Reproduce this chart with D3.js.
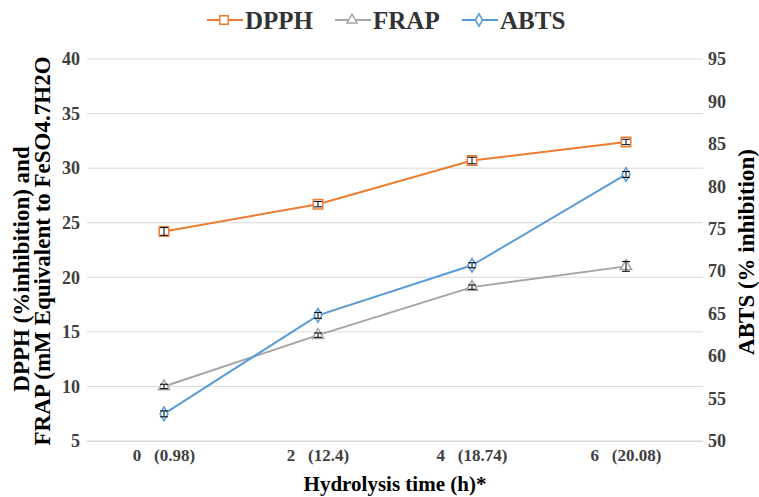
<!DOCTYPE html>
<html><head><meta charset="utf-8">
<script src="https://cdn.jsdelivr.net/npm/d3@7"></script>
<style>body{margin:0;background:#fff}svg{display:block}
text{font-family:"Liberation Serif","Times New Roman",Times,serif;font-weight:bold}</style>
</head><body>
<svg id="c" width="759" height="497"></svg>
<script>
const categories = ["0   (0.98)", "2   (12.4)", "4   (18.74)", "6   (20.08)"];
const dpph = [24.2, 26.7, 30.7, 32.4];
const dpphErr = [0.35, 0.25, 0.3, 0.25];
const frap = [10.0, 14.7, 19.1, 21.0];
const frapErr = [0.2, 0.2, 0.2, 0.45];
const abts = [53.2, 64.8, 70.7, 81.4];
const abtsErr = [0.35, 0.35, 0.3, 0.35];
const leftTicks = [5, 10, 15, 20, 25, 30, 35, 40];
const rightTicks = [50, 55, 60, 65, 70, 75, 80, 85, 90, 95];

const svg = d3.select("#c");
const L = 87, R = 703, T = 59, B = 441;
const x = d3.scaleBand().domain(categories).range([L, R]);
const yL = d3.scaleLinear().domain([5, 40]).range([B, T]);
const yR = d3.scaleLinear().domain([50, 95]).range([B, T]);
const cx = c => x(c) + x.bandwidth() / 2;

svg.append("g").selectAll("line").data(leftTicks).join("line")
  .attr("x1", L).attr("x2", R).attr("y1", d => yL(d)).attr("y2", d => yL(d))
  .attr("stroke", "#d9d9d9").attr("stroke-width", 1);

const styleTicks = (g, fs) => { g.attr("font-family", null); g.selectAll("text").attr("font-family", null)
  .attr("font-size", fs).attr("fill", "#404040"); };

const gl = svg.append("g").attr("transform", `translate(${L},0)`)
  .call(d3.axisLeft(yL).tickValues(leftTicks).tickSize(0).tickPadding(7));
gl.select(".domain").remove();
styleTicks(gl, 18);

const gr = svg.append("g").attr("transform", `translate(${R},0)`)
  .call(d3.axisRight(yR).tickValues(rightTicks).tickSize(0).tickPadding(5));
gr.select(".domain").remove();
styleTicks(gr, 18);

const gb = svg.append("g").attr("transform", `translate(0,${B})`)
  .call(d3.axisBottom(x).tickSize(0).tickPadding(8));
gb.select(".domain").attr("stroke", "#d9d9d9");
styleTicks(gb, 17);
gb.selectAll("text").style("white-space", "pre");

svg.append("text").attr("transform", `translate(21,${(T + B) / 2 + 19}) rotate(-90)`)
  .attr("text-anchor", "middle").attr("dy", "0.35em").attr("font-size", 23)
  .text("DPPH (%inhibition) and");
svg.append("text").attr("transform", `translate(42,${(T + B) / 2 + 1}) rotate(-90)`)
  .attr("text-anchor", "middle").attr("dy", "0.35em").attr("font-size", 23)
  .text("FRAP (mM Equivalent to FeSO4.7H2O");
svg.append("text").attr("transform", `translate(746,252) rotate(-90)`)
  .attr("text-anchor", "middle").attr("dy", "0.35em").attr("font-size", 23)
  .text("ABTS (% inhibition)");
svg.append("text").attr("x", 395).attr("y", 491)
  .attr("text-anchor", "middle").attr("font-size", 21)
  .text("Hydrolysis time (h)*");

const series = [
  { name: "DPPH", vals: dpph, err: dpphErr, y: yL, color: "#ed7d31", sym: d3.symbolSquare, size: 90 },
  { name: "FRAP", vals: frap, err: frapErr, y: yL, color: "#a5a5a5", sym: d3.symbolTriangle, size: 55 },
  { name: "ABTS", vals: abts, err: abtsErr, y: yR, color: "#5b9bd5", sym: d3.symbolDiamond, size: 55 }
];

series.forEach(s => {
  const pts = categories.map((c, i) => ({ c, v: s.vals[i], e: s.err[i] }));
  svg.append("path").datum(pts)
    .attr("d", d3.line().x(d => cx(d.c)).y(d => s.y(d.v)))
    .attr("fill", "none").attr("stroke", s.color).attr("stroke-width", 2);
  svg.append("g").selectAll("path").data(pts).join("path")
    .attr("d", d3.symbol().type(s.sym).size(s.size))
    .attr("transform", d => `translate(${cx(d.c)},${s.y(d.v)})`)
    .attr("fill", "#fff").attr("stroke", s.color).attr("stroke-width", 1.5);
  const eg = svg.append("g").attr("stroke", "#000").attr("stroke-width", 1);
  pts.forEach(d => {
    const y1 = s.y(d.v - d.e), y2 = s.y(d.v + d.e), xx = cx(d.c);
    eg.append("line").attr("x1", xx).attr("x2", xx).attr("y1", y1).attr("y2", y2);
    eg.append("line").attr("x1", xx - 4).attr("x2", xx + 4).attr("y1", y1).attr("y2", y1);
    eg.append("line").attr("x1", xx - 4).attr("x2", xx + 4).attr("y1", y2).attr("y2", y2);
  });
});

const legX = [207, 335, 462];
series.forEach((s, i) => {
  const g = svg.append("g").attr("transform", `translate(${legX[i]},20)`);
  g.append("line").attr("x1", 0).attr("x2", 36).attr("stroke", s.color).attr("stroke-width", 2);
  g.append("path").attr("d", d3.symbol().type(s.sym).size(s.size * 0.8)).attr("transform", "translate(17,0)")
    .attr("fill", "#fff").attr("stroke", s.color).attr("stroke-width", 1.5);
  g.append("text").attr("x", 38).attr("y", 0).attr("dy", "0.35em")
    .attr("font-size", 25).attr("fill", "#333").text(s.name);
});
</script>
</body></html>
